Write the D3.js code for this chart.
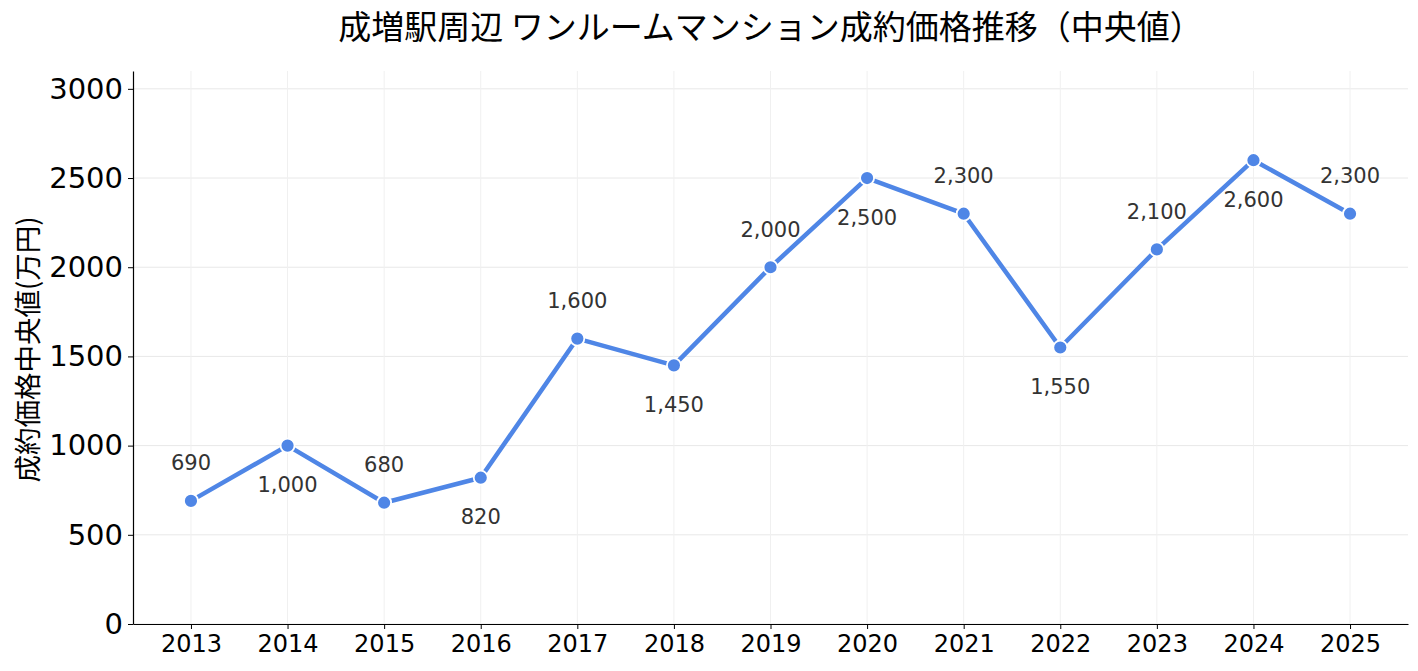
<!DOCTYPE html>
<html>
<head>
<meta charset="utf-8">
<script src="https://cdn.jsdelivr.net/npm/d3@7"></script>
<style>
  body { margin: 0; background: #fff; }
  text { font-family: "Noto Sans CJK JP", "Noto Sans", sans-serif; }
  .num { font-family: "DejaVu Sans", sans-serif; }
</style>
</head>
<body>
<div id="wrapper"></div>
<script>
const years = [2013, 2014, 2015, 2016, 2017, 2018, 2019, 2020, 2021, 2022, 2023, 2024, 2025];
const prices = [690, 1000, 680, 820, 1600, 1450, 2000, 2500, 2300, 1550, 2100, 2600, 2300];
const yTicks = [0, 500, 1000, 1500, 2000, 2500, 3000];
const titleText = "成増駅周辺 ワンルームマンション成約価格推移（中央値）";
const yLabelText = "成約価格中央値(万円)";

const dimension = {
    width: 1418,
    height: 671,
    margin: { top: 71, left: 133, bottom: 47, right: 10 }
};
dimension.boundedWidth = dimension.width - dimension.margin.left - dimension.margin.right;
dimension.boundedHeight = dimension.height - dimension.margin.top - dimension.margin.bottom;

const svg = d3.select("#wrapper").append("svg")
    .attr("width", dimension.width)
    .attr("height", dimension.height);

const bounded = svg.append("g")
    .attr("transform", `translate(${dimension.margin.left},${dimension.margin.top})`);

const xScaler = d3.scaleLinear()
    .domain([2012.4, 2025.6])
    .range([0, dimension.boundedWidth]);

const yScaler = d3.scaleLinear()
    .domain([0, 3100])
    .range([dimension.boundedHeight, 0]);

// grid
bounded.append("g")
    .selectAll("line")
    .data(yTicks)
    .join("line")
    .attr("x1", 0).attr("x2", dimension.boundedWidth)
    .attr("y1", d => yScaler(d)).attr("y2", d => yScaler(d))
    .attr("stroke", "#e8e8e8").attr("stroke-width", 1);

bounded.append("g")
    .selectAll("line")
    .data(years)
    .join("line")
    .attr("x1", d => xScaler(d)).attr("x2", d => xScaler(d))
    .attr("y1", 0).attr("y2", dimension.boundedHeight)
    .attr("stroke", "#f0f0f0").attr("stroke-width", 1);

// axes
const xAxis = d3.axisBottom(xScaler)
    .tickValues(years)
    .tickFormat(d3.format("d"))
    .tickSize(5)
    .tickSizeOuter(0);

const yAxis = d3.axisLeft(yScaler)
    .tickValues(yTicks)
    .tickFormat(d => d)
    .tickSize(5)
    .tickSizeOuter(0);

const gx = bounded.append("g")
    .attr("transform", `translate(0,${dimension.boundedHeight})`)
    .call(xAxis);
gx.select(".domain").attr("stroke", "#000").attr("stroke-width", 1.2);
gx.selectAll(".tick line").attr("stroke", "#000");
gx.selectAll(".tick text")
    .attr("class", "num")
    .attr("dy", "0.71em")
    .attr("y", 11)
    .style("font-size", "24px")
    .attr("fill", "#000");

const gy = bounded.append("g").call(yAxis);
gy.select(".domain").attr("stroke", "#000").attr("stroke-width", 1.2);
gy.selectAll(".tick line").attr("stroke", "#000");
gy.selectAll(".tick text")
    .attr("class", "num")
    .attr("x", -10)
    .style("font-size", "29px")
    .attr("fill", "#000");

// line
const line = d3.line()
    .x((d, i) => xScaler(years[i]))
    .y(d => yScaler(d));

bounded.append("path")
    .attr("d", line(prices))
    .attr("fill", "none")
    .attr("stroke", "#4f86e6")
    .attr("stroke-width", 4.5)
    .attr("stroke-linejoin", "round");

bounded.append("g")
    .selectAll("circle")
    .data(prices)
    .join("circle")
    .attr("cx", (d, i) => xScaler(years[i]))
    .attr("cy", d => yScaler(d))
    .attr("r", 7)
    .attr("fill", "#4f86e6")
    .attr("stroke", "#fff")
    .attr("stroke-width", 1.8);

// value labels, alternating above / below
bounded.append("g")
    .selectAll("text")
    .data(prices)
    .join("text")
    .attr("class", "num")
    .attr("x", (d, i) => xScaler(years[i]))
    .attr("y", (d, i) => yScaler(d) + (i % 2 === 0 ? -38 : 39))
    .attr("dy", "0.36em")
    .attr("text-anchor", "middle")
    .style("font-size", "21px")
    .attr("fill", "#333")
    .text(d => d3.format(",")(d));

// title
svg.append("text")
    .attr("x", dimension.margin.left + dimension.boundedWidth / 2)
    .attr("y", 39)
    .attr("text-anchor", "middle")
    .style("font-size", "33px")
    .attr("fill", "#000")
    .text(titleText);

// y label
svg.append("text")
    .attr("transform", `translate(38,${dimension.margin.top + dimension.boundedHeight / 2 + 2}) rotate(-90)`)
    .attr("text-anchor", "middle")
    .style("font-size", "27.5px")
    .attr("fill", "#000")
    .text(yLabelText);
</script>
</body>
</html>
